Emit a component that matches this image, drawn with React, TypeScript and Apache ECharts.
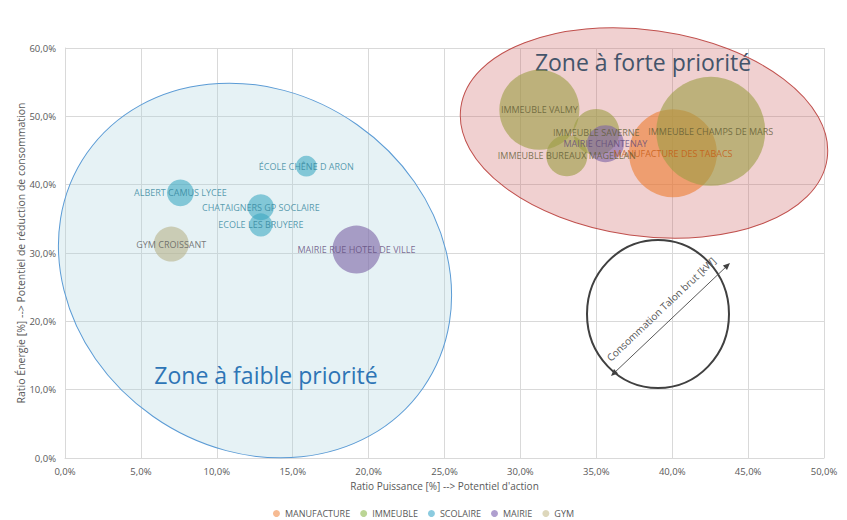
import React, { useEffect, useRef } from "react";
import * as echarts from "echarts";

// ---- Data (x = Ratio Puissance %, y = Ratio Énergie %, size = Talon brut kW estimate) ----
const categories = ["MANUFACTURE", "IMMEUBLE", "SCOLAIRE", "MAIRIE", "GYM"];

const manufactureNames = ["MANUFACTURE DES TABACS"];
const manufactureX = [40.05];
const manufactureY = [44.6];
const manufactureSize = [215];

const immeubleNames = ["IMMEUBLE VALMY", "IMMEUBLE SAVERNE", "IMMEUBLE BUREAUX MAGELLAN", "IMMEUBLE CHAMPS DE MARS"];
const immeubleX = [31.25, 35.0, 33.06, 42.54];
const immeubleY = [50.95, 47.7, 44.25, 47.8];
const immeubleSize = [178, 59, 47, 330];

const scolaireNames = ["ÉCOLE CHÊNE D ARON", "ALBERT CAMUS LYCEE", "CHATAIGNERS GP SOCLAIRE", "ECOLE LES BRUYERE"];
const scolaireX = [15.9, 7.6, 12.9, 12.9];
const scolaireY = [42.7, 38.8, 36.7, 34.1];
const scolaireSize = [12, 20, 19, 15];

const mairieNames = ["MAIRIE RUE HOTEL DE VILLE", "MAIRIE CHANTENAY"];
const mairieX = [19.2, 35.6];
const mairieY = [30.5, 46.0];
const mairieSize = [64, 38];

const gymNames = ["GYM CROISSANT"];
const gymX = [7.0];
const gymY = [31.3];
const gymSize = [34];

const xTicks = { min: 0, max: 50, interval: 5 };
const yTicks = { min: 0, max: 60, interval: 10 };

const FONT = "'Open Sans', 'Noto Sans', sans-serif";

function build(names: string[], xs: number[], ys: number[], sizes: number[]) {
  return names.map((n, i) => ({ name: n, value: [xs[i], ys[i], sizes[i]] }));
}

const styles: Record<string, { fill: string; label: string; legend: string }> = {
  MANUFACTURE: { fill: "rgba(237,125,49,0.75)", label: "#C55A11", legend: "#F4AA78" },
  IMMEUBLE: { fill: "rgba(155,157,66,0.75)", label: "#5E5A32", legend: "#AACB7A" },
  SCOLAIRE: { fill: "rgba(57,166,192,0.72)", label: "#31849B", legend: "#6EBED7" },
  MAIRIE: { fill: "rgba(123,99,165,0.75)", label: "#5F497A", legend: "#9B87C3" },
  GYM: { fill: "rgba(183,179,139,0.75)", label: "#595959", legend: "#D5CDAA" },
};

const seriesData: Record<string, any[]> = {
  MANUFACTURE: build(manufactureNames, manufactureX, manufactureY, manufactureSize),
  IMMEUBLE: build(immeubleNames, immeubleX, immeubleY, immeubleSize),
  SCOLAIRE: build(scolaireNames, scolaireX, scolaireY, scolaireSize),
  MAIRIE: build(mairieNames, mairieX, mairieY, mairieSize),
  GYM: build(gymNames, gymX, gymY, gymSize),
};

const fmt = (v: number) => v.toFixed(1).replace(".", ",") + "%";
const deg = (d: number) => (d * Math.PI) / 180;

export default function App() {
  const ref = useRef<HTMLDivElement>(null);
  useEffect(() => {
    if (!ref.current) return;
    const chart = echarts.init(ref.current, undefined, { renderer: "svg" });
    const option: any = {
      animation: false,
      backgroundColor: "#ffffff",
      textStyle: { fontFamily: FONT },
      grid: { left: 65, right: 23, top: 48, bottom: 62, containLabel: false },
      xAxis: {
        type: "value",
        min: xTicks.min,
        max: xTicks.max,
        interval: xTicks.interval,
        name: "Ratio Puissance [%] --> Potentiel d'action",
        nameLocation: "middle",
        nameGap: 23,
        nameMoveOverlap: false,
        nameTextStyle: { color: "#595959", fontSize: 10, fontFamily: FONT },
        axisLine: { show: true, lineStyle: { color: "#D9D9D9" } },
        axisTick: { show: false },
        axisLabel: { color: "#595959", fontSize: 9.5, fontFamily: FONT, margin: 8, formatter: fmt },
        splitLine: { show: true, lineStyle: { color: "#D9D9D9" } },
      },
      yAxis: {
        type: "value",
        min: yTicks.min,
        max: yTicks.max,
        interval: yTicks.interval,
        name: "Ratio Énergie [%] --> Potentiel de réduction de consommation",
        nameLocation: "middle",
        nameGap: 39,
        nameMoveOverlap: false,
        nameTextStyle: { color: "#595959", fontSize: 10.5, fontFamily: FONT },
        axisLine: { show: true, lineStyle: { color: "#D9D9D9" } },
        axisTick: { show: false },
        axisLabel: { color: "#595959", fontSize: 9.5, fontFamily: FONT, margin: 9, formatter: fmt },
        splitLine: { show: true, lineStyle: { color: "#D9D9D9" } },
      },
      legend: {
        top: 508,
        left: "center",
        padding: 0,
        icon: "circle",
        itemWidth: 7,
        itemHeight: 7,
        itemGap: 10,
        textStyle: { color: "#595959", fontSize: 9, fontFamily: FONT, lineHeight: 11 },
        data: categories.map((c) => ({ name: c, itemStyle: { color: styles[c].legend } })),
      },
      graphic: [
        {
          type: "ellipse",
          x: 255,
          y: 270.5,
          rotation: deg(-35),
          shape: { cx: 0, cy: 0, rx: 205, ry: 178 },
          style: { fill: "rgba(172,212,222,0.3)", stroke: "#5B9BD5", lineWidth: 1 },
          z: 1,
          silent: true,
        },
        {
          type: "ellipse",
          x: 644,
          y: 133,
          rotation: deg(-8),
          shape: { cx: 0, cy: 0, rx: 185, ry: 103 },
          style: { fill: "rgba(205,98,98,0.3)", stroke: "#C0504D", lineWidth: 1 },
          z: 1,
          silent: true,
        },
        {
          type: "ellipse",
          x: 658,
          y: 314,
          shape: { cx: 0, cy: 0, rx: 71, ry: 74 },
          style: { fill: "none", stroke: "#404040", lineWidth: 2 },
          z: 1,
          silent: true,
        },
        {
          type: "line",
          shape: { x1: 613, y1: 374, x2: 728, y2: 265 },
          style: { stroke: "#595959", lineWidth: 1 },
          z: 1,
          silent: true,
        },
        {
          type: "polygon",
          shape: { points: [[730, 263], [727.0, 270.0], [722.9, 265.6]] },
          style: { fill: "#404040" },
          z: 1,
          silent: true,
        },
        {
          type: "polygon",
          shape: { points: [[611, 376], [618.1, 373.4], [614.0, 369.0]] },
          style: { fill: "#404040" },
          z: 1,
          silent: true,
        },
        {
          type: "text",
          x: 661,
          y: 309,
          rotation: deg(43.5),
          style: {
            text: "Consommation Talon brut [kW]",
            fill: "#595959",
            font: `10px ${FONT}`,
            align: "center",
            verticalAlign: "middle",
          },
          z: 1,
          silent: true,
        },
        {
          type: "text",
          x: 643,
          y: 62,
          style: {
            text: "Zone à forte priorité",
            fill: "#44546A",
            font: `23px ${FONT}`,
            align: "center",
            verticalAlign: "middle",
          },
          z: 1,
          silent: true,
        },
        {
          type: "text",
          x: 266,
          y: 375,
          style: {
            text: "Zone à faible priorité",
            fill: "#2E75B6",
            font: `23px ${FONT}`,
            align: "center",
            verticalAlign: "middle",
          },
          z: 1,
          silent: true,
        },
      ],
      series: categories.map((c) => ({
        name: c,
        type: "scatter",
        data: seriesData[c],
        symbolSize: (d: number[]) => 6 * Math.sqrt(d[2]),
        itemStyle: { color: styles[c].fill },
        z: 2,
        label: {
          show: true,
          position: "inside",
          formatter: (p: any) => p.name,
          color: styles[c].label,
          fontSize: 9,
          fontFamily: FONT,
        },
        emphasis: { disabled: true },
      })),
    };
    chart.setOption(option);
    return () => chart.dispose();
  }, []);
  return (
    <div
      ref={ref}
      style={{ position: "fixed", left: 0, top: 0, width: 847, height: 520 }}
    />
  );
}
